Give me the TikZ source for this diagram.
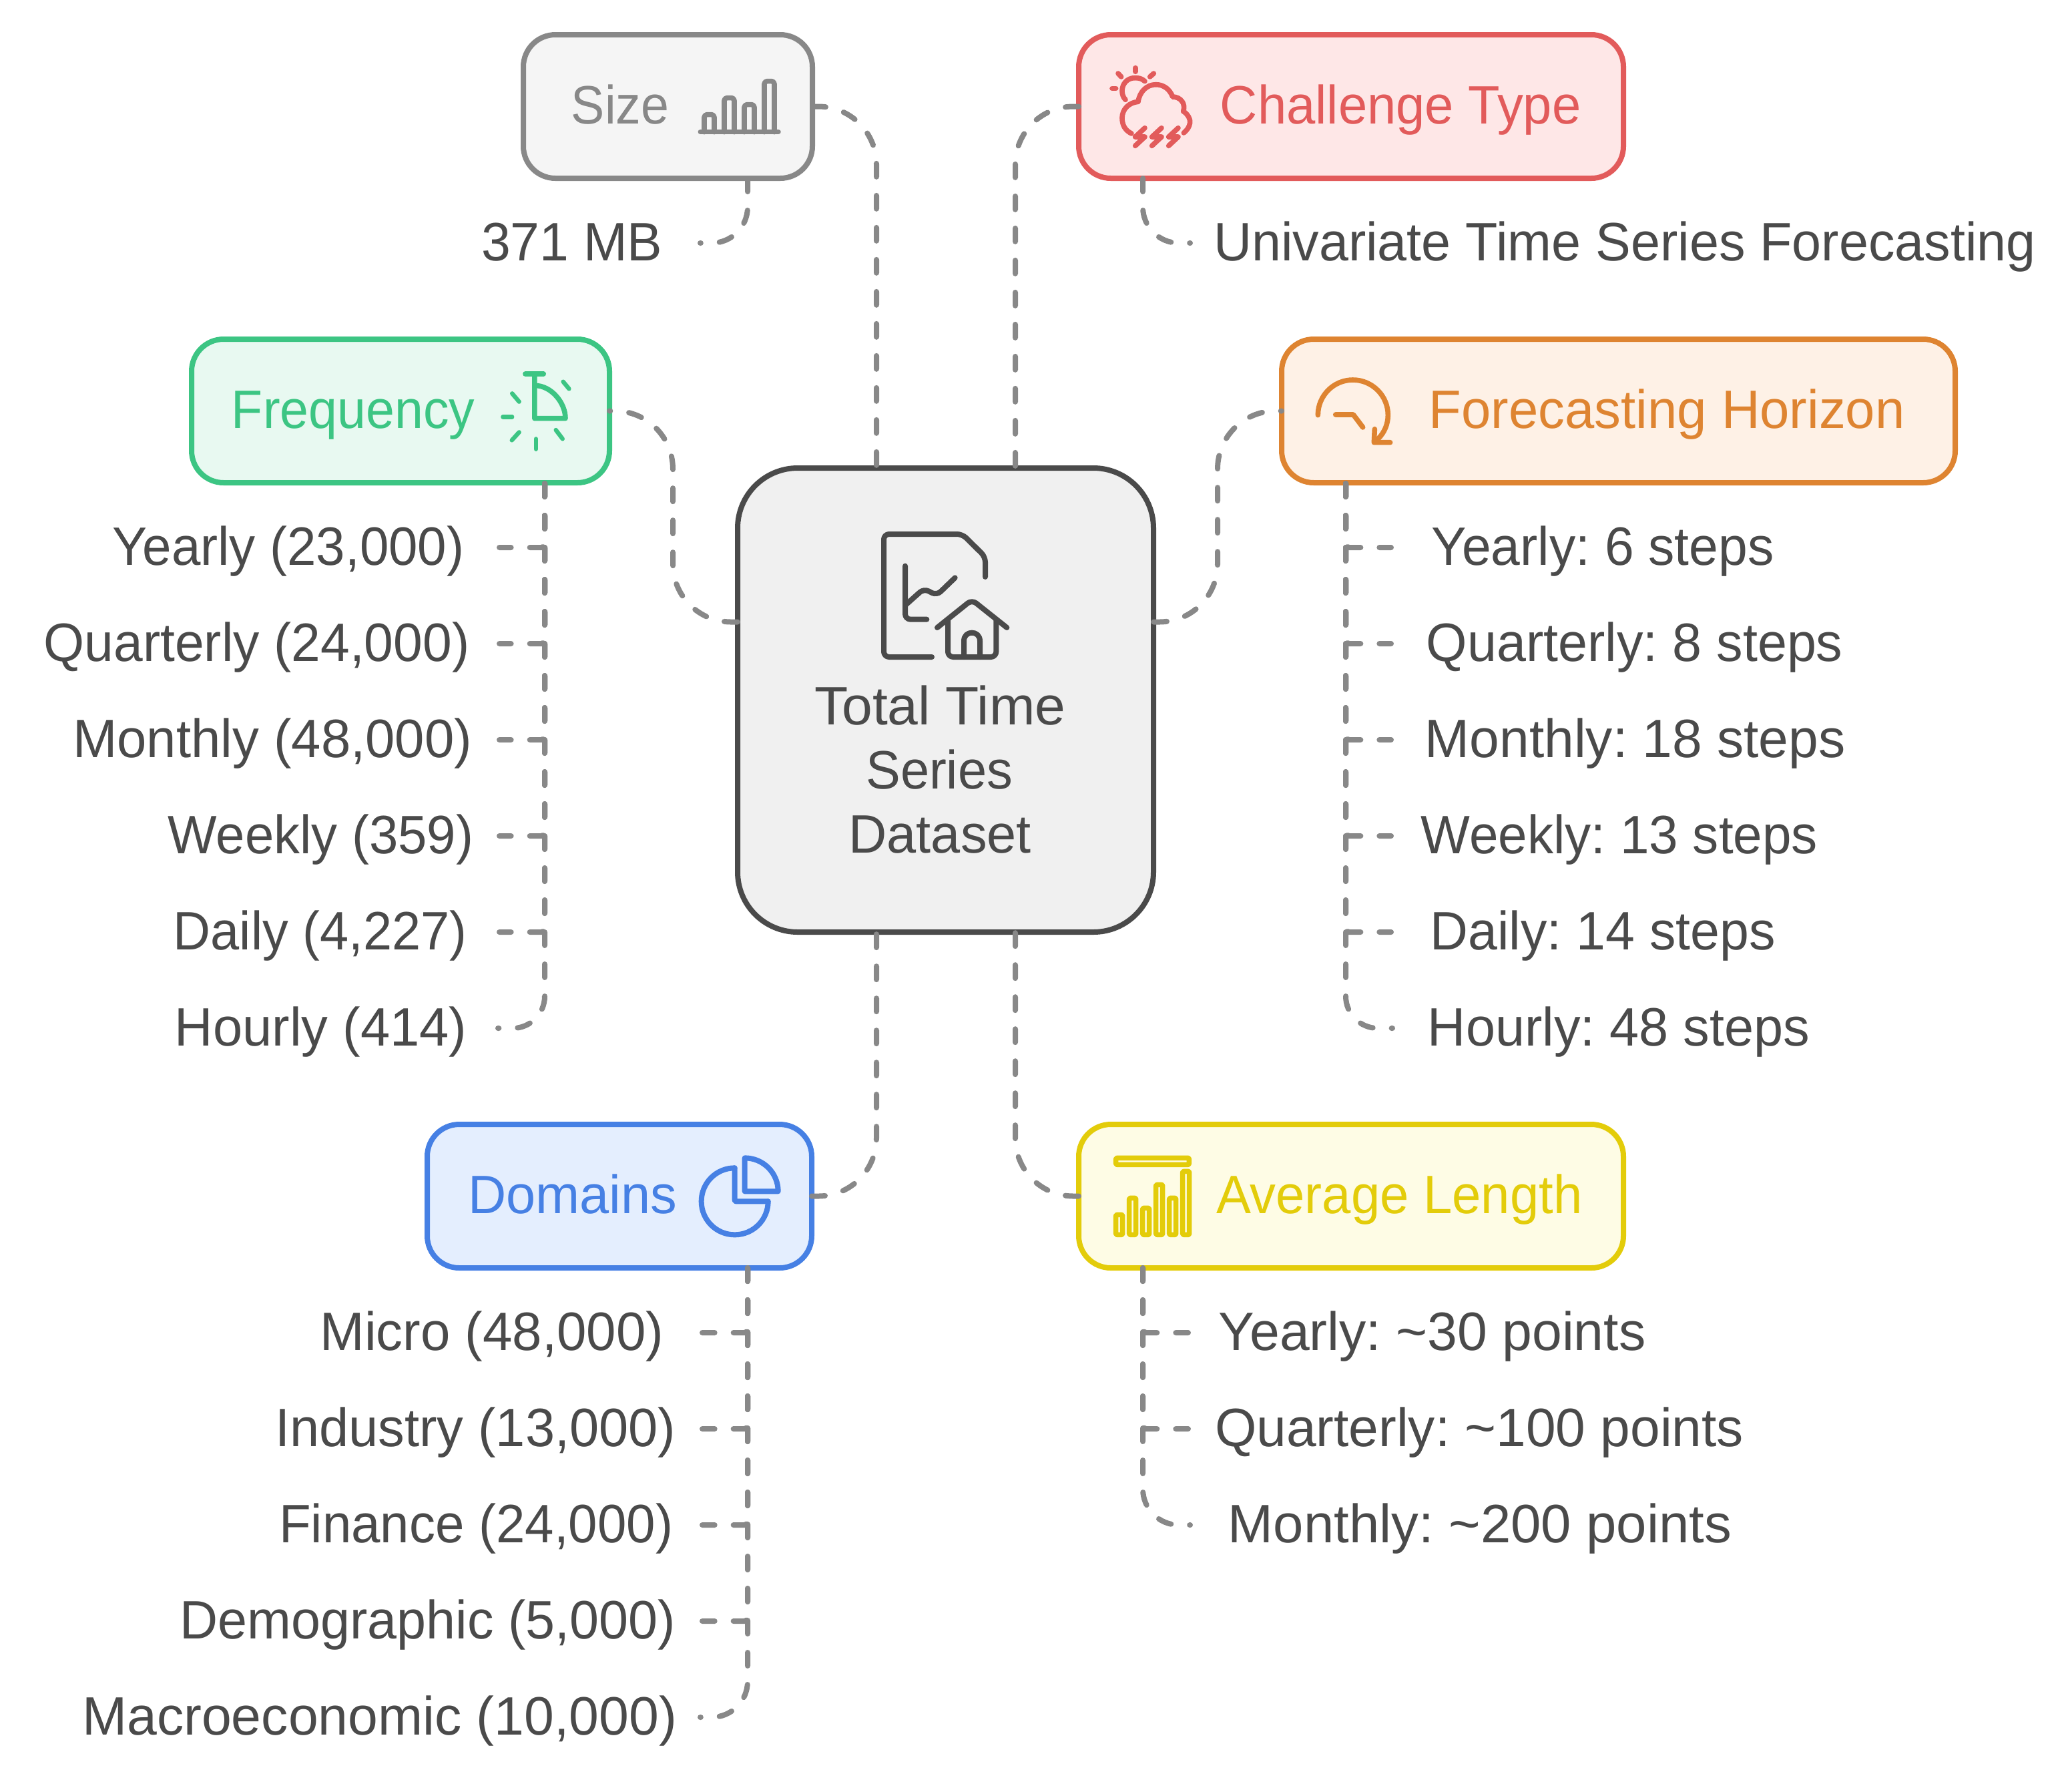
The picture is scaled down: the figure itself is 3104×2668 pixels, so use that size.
\documentclass[tikz,border=0pt]{standalone}
\usepackage{graphicx}
\usepackage{fontspec}
\setmainfont{Liberation Sans}
\definecolor{ink}{HTML}{4A4A4A}
\definecolor{conncol}{HTML}{888888}
\definecolor{grayS}{HTML}{888888}\definecolor{grayF}{HTML}{F5F5F5}
\definecolor{redS}{HTML}{E25B5B}\definecolor{redF}{HTML}{FEE7E7}
\definecolor{greenS}{HTML}{3CC583}\definecolor{greenF}{HTML}{E8F9F1}
\definecolor{orangeS}{HTML}{DE8431}\definecolor{orangeF}{HTML}{FEF1E6}
\definecolor{blueS}{HTML}{4680E4}\definecolor{blueF}{HTML}{E4EEFE}
\definecolor{yellowS}{HTML}{E3CC0A}\definecolor{yellowF}{HTML}{FEFCE5}
\tikzset{
  catbox/.style={draw=#1S,fill=#1F,line width=4pt,rounded corners=24pt,minimum height=107.5pt,inner sep=0pt,outer sep=0pt},
  conn/.style={draw=conncol,line width=4pt,line cap=round,dash pattern=on 10pt off 14pt},
  sharpturn/.style={rounded corners=2.5pt},
  lastrow/.style={rounded corners=27pt},
  lastrowb/.style={rounded corners=24pt},
  bendy/.style={rounded corners=43.5pt},
  txtstyle/.style={inner sep=0pt,font=\fontsize{40.5}{48}\selectfont},
  icon/.style={draw=#1,line width=3.8pt,line cap=round,line join=round},
}
% name, left, right (overview units), row y (px), colour, text
\newcommand\lbltext[6]{%
  \pgfmathsetmacro\lx{#2*1.98}\pgfmathsetlengthmacro\tw{(#3-#2)*0.99}%
  \node[txtstyle,text=#5,anchor=base west] (#1) at (\lx,{#4+26}) {\frenchspacing\resizebox{\tw}{\height}{#6}};}
\newcommand\leafrow[7]{\lbltext{#1}{#2}{#3}{#4}{ink}{#7}\coordinate (#1-end) at (#5,#4);}
\begin{document}
\begin{tikzpicture}[x=0.5pt,y=-0.5pt]
\useasboundingbox (0,0) rectangle (3104,2668);
% boxes
\node[catbox=gray,minimum width=216.5pt] (size) at (1000.5,159.5) {};
\node[catbox=red,minimum width=408pt] (chal) at (2024,159.5) {};
\node[catbox=green,minimum width=313pt] (freq) at (600,615.5) {};
\node[catbox=orange,minimum width=504.5pt] (hor) at (2424.5,615.5) {};
\node[catbox=blue,minimum width=288pt] (dom) at (928,1791.5) {};
\node[catbox=yellow,minimum width=408pt] (avg) at (2024,1791.5) {};
\node[draw=ink,fill=black!6,line width=4pt,rounded corners=45pt,minimum width=311.5pt,minimum height=347.5pt,inner sep=0pt,outer sep=0pt] (ctr) at (1416.5,1048.5) {};
% ports
\coordinate (sizeP) at (1120,267);
\coordinate (chalP) at (1712,267);
\coordinate (freqP) at (816,724);
\coordinate (horP) at (2016,724);
\coordinate (domP) at (1120,1899);
\coordinate (avgP) at (1712,1899);
\coordinate (freqMid) at (1008,770);
\coordinate (horMid) at (1824,770);
% titles
\lbltext{sizeT}{432}{506}{159.5}{grayS}{Size}
\lbltext{chalT}{923}{1196}{159.5}{redS}{Challenge Type}
\lbltext{freqT}{175}{359}{615.5}{greenS}{Frequency}
\lbltext{horT}{1081}{1441}{615.5}{orangeS}{Forecasting Horizon}
\lbltext{domT}{354}{512}{1791.5}{blueS}{Domains}
\lbltext{avgT}{920}{1197}{1791.5}{yellowS}{Average Length}
% centre text
\lbltext{ctrA}{616}{806}{1059}{ink}{Total Time}
\lbltext{ctrB}{655}{766}{1155}{ink}{Series}
\lbltext{ctrC}{642}{780}{1251}{ink}{Dataset}
% leaves
\leafrow{mb}{364}{501}{364}{1049}{}{371 MB}
\leafrow{uni}{918}{1540}{364}{1783}{}{Univariate Time Series Forecasting}
\leafrow{f1}{85}{351}{820}{748}{}{Yearly (23,000)}
\leafrow{f2}{33}{355}{964}{748}{}{Quarterly (24,000)}
\leafrow{f3}{55}{357}{1108}{748}{}{Monthly (48,000)}
\leafrow{f4}{127}{358}{1252}{748}{}{Weekly (359)}
\leafrow{f5}{131}{353}{1396}{748}{}{Daily (4,227)}
\leafrow{f6}{132}{353}{1540}{746}{}{Hourly (414)}
\leafrow{h1}{1083}{1342}{820}{2084}{}{Yearly: 6 steps}
\leafrow{h2}{1079}{1394}{964}{2084}{}{Quarterly: 8 steps}
\leafrow{h3}{1078}{1396}{1108}{2084}{}{Monthly: 18 steps}
\leafrow{h4}{1075}{1375}{1252}{2084}{}{Weekly: 13 steps}
\leafrow{h5}{1082}{1343}{1396}{2084}{}{Daily: 14 steps}
\leafrow{h6}{1080}{1369}{1540}{2086}{}{Hourly: 48 steps}
\leafrow{d1}{242}{502}{1996}{1052}{}{Micro (48,000)}
\leafrow{d2}{208}{511}{2140}{1052}{}{Industry (13,000)}
\leafrow{d3}{211}{509}{2284}{1052}{}{Finance (24,000)}
\leafrow{d4}{136}{511}{2428}{1052}{}{Demographic (5,000)}
\leafrow{d5}{62}{512}{2572}{1049}{}{Macroeconomic (10,000)}
\leafrow{a1}{922}{1245}{1996}{1780}{}{Yearly: \textasciitilde 30 points}
\leafrow{a2}{919}{1319}{2140}{1780}{}{Quarterly: \textasciitilde 100 points}
\leafrow{a3}{929}{1310}{2284}{1783}{}{Monthly: \textasciitilde 200 points}
% centre links
\draw[conn,bendy] (size.east) -| ([xshift=-51.75pt]ctr.north);
\draw[conn,bendy] (chal.west) -| ([xshift=52.25pt]ctr.north);
\coordinate (freqIn) at ([yshift=58.5pt]ctr.west);
\coordinate (horIn) at ([yshift=58.5pt]ctr.east);
\draw[conn,bendy] (freqIn) -- (freqIn -| freqMid) -- (freq.east -| freqMid) -- (freq.east);
\draw[conn,bendy] (horIn) -- (horIn -| horMid) -- (hor.west -| horMid) -- (hor.west);
\draw[conn,bendy] (dom.east) -| ([xshift=-51.75pt]ctr.south);
\draw[conn,bendy] (avg.west) -| ([xshift=52.25pt]ctr.south);
% branches
\draw[conn,lastrow] (sizeP) |- (mb-end);
\draw[conn,lastrow] (chalP) |- (uni-end);
\foreach \n in {f1,f2,f3,f4,f5} \draw[conn,sharpturn] (freqP) |- (\n-end);
\draw[conn,lastrowb] (freqP) |- (f6-end);
\foreach \n in {h1,h2,h3,h4,h5} \draw[conn,sharpturn] (horP) |- (\n-end);
\draw[conn,lastrowb] (horP) |- (h6-end);
\foreach \n in {d1,d2,d3,d4} \draw[conn,sharpturn] (domP) |- (\n-end);
\draw[conn,lastrow] (domP) |- (d5-end);
\foreach \n in {a1,a2} \draw[conn,sharpturn] (avgP) |- (\n-end);
\draw[conn,lastrow] (avgP) |- (a3-end);
% size icon
\begin{scope}[shift={(760,30)},scale=1/3,icon/.append style={rounded corners=2pt}]
\draw[icon=grayS] (868,503) -- (1218,503);
\draw[icon=grayS] (885,503) -- (885,425) -- (930,425) -- (930,503);
\draw[icon=grayS] (975,503) -- (975,350) -- (1020,350) -- (1020,503);
\draw[icon=grayS] (1065,503) -- (1065,380) -- (1110,380) -- (1110,503);
\draw[icon=grayS] (1155,503) -- (1155,275) -- (1200,275) -- (1200,503);
\end{scope}
% weather icon
\begin{scope}[shift={(1620,30)},scale=1/3]
\draw[icon=redS] (243,215) -- (243,232);
\draw[icon=redS] (165,240) -- (179,255);
\draw[icon=redS] (325,240) -- (308,255);
\draw[icon=redS] (138,307) -- (155,307);
\draw[icon=redS] (285,275) .. controls (270,262) and (258,260) .. (240,260) .. controls (205,260) and (183,288) .. (183,318) .. controls (183,335) and (188,347) .. (198,358);
\draw[icon=redS] (225,510) .. controls (195,495) and (183,470) .. (183,440) .. controls (183,400) and (215,370) .. (255,367) .. controls (262,320) and (295,290) .. (335,290) .. controls (370,290) and (398,312) .. (410,345) .. controls (445,345) and (470,375) .. (458,410) .. controls (480,425) and (490,445) .. (488,462) .. controls (485,480) and (475,495) .. (460,507);
\foreach \o in {0,75,150} \draw[icon=redS] (285+\o,485) -- (242+\o,525) -- (285+\o,525) -- (242+\o,565);
\end{scope}
% frequency icon
\begin{scope}[shift={(280,500)},xscale=0.42,yscale=1/3]
\draw[icon=greenS] (1207,180) -- (1272,180);
\draw[icon=greenS] (1240,180) -- (1240,380) -- (1350,380) .. controls (1350,310) and (1300,232) .. (1240,232);
\draw[icon=greenS,line width=3.2pt] (1342,215) -- (1363,247);
\draw[icon=greenS,line width=3.2pt] (1160,268) -- (1185,305);
\draw[icon=greenS,line width=3.2pt] (1127,373) -- (1160,373);
\draw[icon=greenS,line width=3.2pt] (1185,442) -- (1159,478);
\draw[icon=greenS,line width=3.2pt] (1245,472) -- (1245,518);
\draw[icon=greenS,line width=3.2pt] (1316,432) -- (1340,472);
\end{scope}
% horizon icon
\begin{scope}[shift={(1930,500)},scale=1/3]
\draw[icon=orangeS] (133,365) .. controls (133,278) and (203,207) .. (290,207) .. controls (377,207) and (448,278) .. (448,365) .. controls (448,405) and (432,443) .. (405,470);
\draw[icon=orangeS] (388,428) -- (385,488) -- (458,488);
\draw[icon=orangeS] (212,363) -- (292,363) -- (335,420);
\end{scope}
% centre icon
\begin{scope}[shift={(1260,760)},scale=1/3,icon/.append style={line width=4pt,rounded corners=4pt}]
\draw[icon=ink] (648,312) -- (648,222) -- (545,120) -- (192,120) -- (192,672) -- (408,672);
\draw[icon=ink] (288,263) -- (288,503) -- (385,503);
\draw[icon=ink] (288,440) -- (372,365) -- (430,395) -- (512,316);
\draw[icon=ink] (432,540) -- (588,415) -- (745,540);
\draw[icon=ink] (480,505) -- (480,672) -- (697,672) -- (697,505);
\end{scope}
\begin{scope}[shift={(1260,760)},scale=1/3]
\draw[icon=ink,line width=4pt] (552,672) -- (552,600) .. controls (552,575) and (570,563) .. (588,563) .. controls (606,563) and (624,575) .. (624,600) -- (624,672);
\end{scope}
% pie icon
\begin{scope}[shift={(1000,1680)},scale=1/3]
\draw[icon=blueS,line width=4pt,rounded corners=1pt] (302,208) -- (302,358) -- (452,358);
\draw[icon=blueS,line width=4pt] (452,358) .. controls (452,441) and (385,508) .. (302,508) .. controls (219,508) and (152,441) .. (152,358) .. controls (152,275) and (219,208) .. (302,208);
\draw[icon=blueS,line width=4pt] (347,163) -- (347,313) -- (497,313) .. controls (497,230) and (430,163) .. (347,163) -- cycle;
\end{scope}
% bars icon
\begin{scope}[shift={(1630,1690)},scale=1/3,icon/.append style={line width=3.8pt,rounded corners=1pt}]
\draw[icon=yellowS] (125,133) rectangle (454,163);
\foreach \l/\t in {125/388,185/313,245/358,305/253,365/313,425/193}
  \draw[icon=yellowS] (\l,\t) rectangle (\l+30,478);
\end{scope}
\end{tikzpicture}
\end{document}
